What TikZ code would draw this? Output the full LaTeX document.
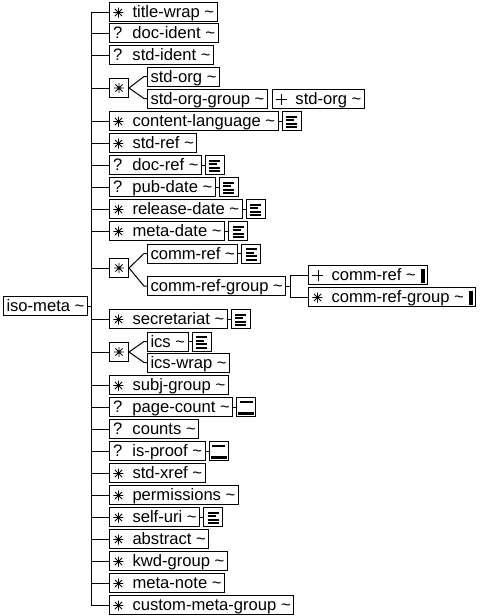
\documentclass[tikz,border=0pt]{standalone}
\usepackage{fontspec}
\setmainfont{Liberation Sans}
\usetikzlibrary{positioning}

% symbols in front of the element names
\newcommand{\starsym}{\tikz[baseline=-5pt, x=1pt, y=1pt]{\draw[line width=0.9pt] (-5,0) -- (5,0) (0,-5) -- (0,5) (-3.6,-3.6) -- (3.6,3.6) (-3.6,3.6) -- (3.6,-3.6);}}
\newcommand{\plussym}{\tikz[baseline=-5pt, x=1pt, y=1pt]{\draw[line width=0.9pt] (-5.5,0) -- (5.5,0) (0,-5.5) -- (0,5.5);}}
\newcommand{\pre}[1]{\makebox[20pt][l]{\hspace{0.5pt}#1}}
\newcommand{\tld}{\textasciitilde}
\newcommand{\blk}{\hspace{5pt}\rule[-2pt]{4pt}{14pt}}

\begin{document}
\begin{tikzpicture}[
    x=1pt, y=-1pt,
    elem/.style={rectangle, draw=black, line width=1pt, anchor=west, minimum height=19pt,
                 inner xsep=3pt, inner ysep=0pt, text height=14pt, text depth=3pt,
                 font=\fontsize{16.6pt}{19pt}\selectfont},
    choice/.style={rectangle, draw=black, line width=1pt, anchor=west, minimum size=19pt, inner sep=0pt},
    docicon/.style={rectangle, draw=black, line width=1pt, minimum size=19pt, inner sep=0pt,
        path picture={
            \foreach \yy/\len in {4/11,7.5/8,11/11,14.5/11}
                \fill ([shift={(4pt,-\yy pt)}]path picture bounding box.north west) rectangle ++(\len pt,-2pt);
        }},
    emptyicon/.style={rectangle, draw=black, line width=1pt, minimum size=19pt, inner sep=0pt,
        path picture={
            \fill ([shift={(3pt,-3pt)}]path picture bounding box.north west) rectangle ++(13pt,-2pt);
            \fill ([shift={(1.5pt,-14pt)}]path picture bounding box.north west) rectangle ++(16pt,-3.5pt);
        }},
    link/.style={line width=1pt}
]
    \useasboundingbox (0,0) rectangle (482,616);

    % root
    \node[elem] (isometa) at (3,306) {iso-meta \tld};
    \coordinate (bus) at (91,306);

    % children of iso-meta
    \node[elem] (titlewrap) at (109,12) {\pre{\starsym}title-wrap \tld};
    \node[elem] (docident) at (109,33) {\pre{?}doc-ident \tld};
    \node[elem] (stdident) at (109,55) {\pre{?}std-ident \tld};
    \node[choice] (ch1) at (109,88) {\starsym};
    \node[elem] (stdorg) at (147,76.5) {std-org \tld};
    \node[elem] (stdorggroup) at (147,98.5) {std-org-group \tld};
    \node[elem, right=4pt of stdorggroup] (stdorgplus) {\pre{\plussym}std-org \tld};
    \node[elem] (contentlang) at (109,121) {\pre{\starsym}content-language \tld};
    \node[elem] (stdref) at (109,143) {\pre{\starsym}std-ref \tld};
    \node[elem] (docref) at (109,165) {\pre{?}doc-ref \tld};
    \node[elem] (pubdate) at (109,187) {\pre{?}pub-date \tld};
    \node[elem] (releasedate) at (109,209) {\pre{\starsym}release-date \tld};
    \node[elem] (metadate) at (109,231) {\pre{\starsym}meta-date \tld};
    \node[choice] (ch2) at (109,268) {\starsym};
    \node[elem] (commref) at (147,253.5) {comm-ref \tld};
    \node[elem] (commrefgroup) at (147,286) {comm-ref-group \tld};
    \coordinate (seq) at (290,286);
    \node[elem] (commrefplus) at (308,275) {\pre{\plussym}comm-ref \tld\blk};
    \node[elem] (commrefgroupstar) at (308,297) {\pre{\starsym}comm-ref-group \tld\blk};
    \node[elem] (secretariat) at (109,319) {\pre{\starsym}secretariat \tld};
    \node[choice] (ch3) at (109,352) {\starsym};
    \node[elem] (ics) at (147,341.5) {ics \tld};
    \node[elem] (icswrap) at (147,362.5) {ics-wrap \tld};
    \node[elem] (subjgroup) at (109,385) {\pre{\starsym}subj-group \tld};
    \node[elem] (pagecount) at (109,407) {\pre{?}page-count \tld};
    \node[elem] (counts) at (109,429) {\pre{?}counts \tld};
    \node[elem] (isproof) at (109,451) {\pre{?}is-proof \tld};
    \node[elem] (stdxref) at (109,473) {\pre{\starsym}std-xref \tld};
    \node[elem] (permissions) at (109,495) {\pre{\starsym}permissions \tld};
    \node[elem] (selfuri) at (109,517) {\pre{\starsym}self-uri \tld};
    \node[elem] (abstract) at (109,539) {\pre{\starsym}abstract \tld};
    \node[elem] (kwdgroup) at (109,561) {\pre{\starsym}kwd-group \tld};
    \node[elem] (metanote) at (109,583) {\pre{\starsym}meta-note \tld};
    \node[elem] (custommeta) at (109,605) {\pre{\starsym}custom-meta-group \tld};

    % content icons
    \foreach \n in {contentlang, docref, pubdate, releasedate, metadate, commref, secretariat, ics, selfuri} {
        \node[docicon, right=3pt of \n] (\n-ic) {};
        \draw[link] (\n) -- (\n-ic);
    }
    \foreach \n in {pagecount, isproof} {
        \node[emptyicon, right=3pt of \n] (\n-ic) {};
        \draw[link] (\n) -- (\n-ic);
    }

    % tree lines
    \draw[link] (isometa) -- (bus);
    \draw[link] (titlewrap.west -| bus) -- (custommeta.west -| bus);
    \foreach \n in {titlewrap, docident, stdident, ch1, contentlang, stdref, docref, pubdate, releasedate,
                    metadate, ch2, secretariat, ch3, subjgroup, pagecount, counts, isproof, stdxref,
                    permissions, selfuri, abstract, kwdgroup, metanote, custommeta}
        \draw[link] (\n.west -| bus) -- (\n.west);

    % choices
    \foreach \c/\k in {ch1/stdorg, ch1/stdorggroup, ch2/commref, ch2/commrefgroup, ch3/ics, ch3/icswrap}
        \draw[link] (\c.east) -- ([xshift=-3pt]\k.west) -- (\k.west);

    % sequence under comm-ref-group
    \draw[link] (commrefgroup) -- (seq);
    \draw[link] (commrefplus.west -| seq) -- (commrefgroupstar.west -| seq);
    \foreach \k in {commrefplus, commrefgroupstar}
        \draw[link] (\k.west -| seq) -- (\k.west);

\end{tikzpicture}
\end{document}
